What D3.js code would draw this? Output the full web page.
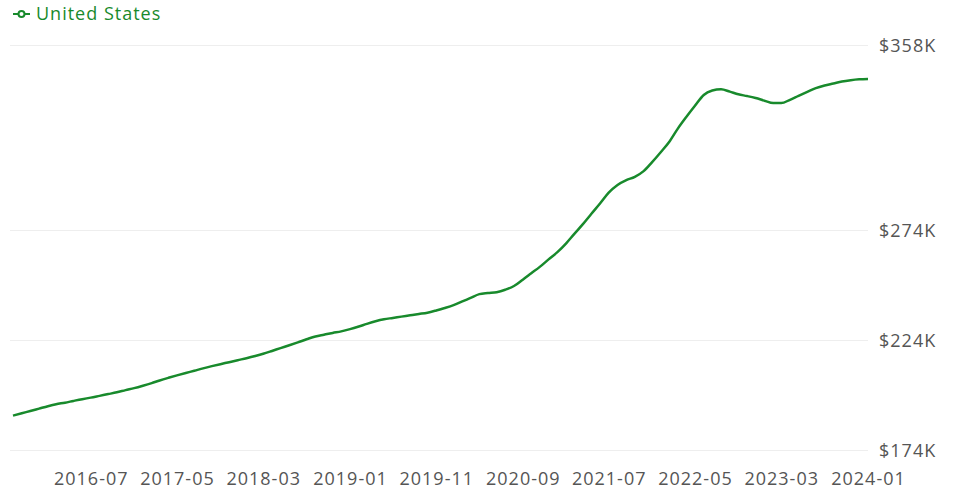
<!DOCTYPE html>
<html>
<head>
<meta charset="utf-8">
<script src="https://cdn.jsdelivr.net/npm/d3@7"></script>
<style>
  body { margin: 0; background: #fff; font-family: "Open Sans", sans-serif; }
  svg text { font-family: "Open Sans", sans-serif; letter-spacing: 1px; }
</style>
</head>
<body>
<div id="chart"></div>
<script>
// monthly values, 2015-10 .. 2024-01, in thousands of dollars
const startMonth = "2015-10";
const values = [
  189.6, 190.7, 191.7, 192.8, 193.9, 194.8, 195.5, 196.3, 197.1, 197.8,
  198.6, 199.4, 200.2, 201.2, 202.1, 203.2, 204.4, 205.6, 206.8, 207.9,
  209.0, 210.0, 211.1, 212.1, 213.0, 213.9, 214.8, 215.7, 216.7, 217.7,
  219.0, 220.3, 221.6, 222.9, 224.3, 225.6, 226.4, 227.2, 227.9, 228.9,
  230.1, 231.3, 232.5, 233.4, 234.0, 234.6, 235.2, 235.8, 236.4, 237.4,
  238.5, 239.8, 241.5, 243.1, 244.8, 245.3, 245.7, 246.8, 248.5, 251.4,
  254.3, 257.3, 260.6, 263.9, 267.9, 272.1, 276.6, 281.3, 286.1, 290.9,
  294.4, 296.6, 298.1, 300.7, 304.8, 309.4, 314.3, 319.9, 325.4, 330.4,
  335.3, 337.3, 337.9, 336.8, 335.6, 334.8, 333.9, 332.7, 331.6, 331.6,
  333.1, 334.9, 336.7, 338.4, 339.6, 340.5, 341.4, 342.0, 342.4, 342.6
];
const yTicks = [174, 224, 274, 358];
const xTicks = ["2016-07", "2017-05", "2018-03", "2019-01", "2019-11",
                "2020-09", "2021-07", "2022-05", "2023-03", "2024-01"];
const seriesName = "United States";

const w = 965, h = 501;
const green = "#188a2c";

const parse = d3.timeParse("%Y-%m");
const t0 = parse(startMonth);
const data = values.map((v, i) => ({ date: d3.timeMonth.offset(t0, i), v: v }));

const x = d3.scaleTime()
  .domain(d3.extent(data, d => d.date))
  .range([13, 868]);

const y = d3.scaleLinear()
  .domain([174, 358])
  .range([450, 45]);

const svg = d3.select("#chart").append("svg")
  .attr("width", w)
  .attr("height", h);

// grid
svg.append("g")
  .selectAll("line")
  .data(yTicks)
  .join("line")
  .attr("x1", 10)
  .attr("x2", 868)
  .attr("y1", d => Math.round(y(d)) + 0.5)
  .attr("y2", d => Math.round(y(d)) + 0.5)
  .attr("stroke", "#eeeeee");

// y axis on the right
const yAxis = d3.axisRight(y)
  .tickValues(yTicks)
  .tickSize(0)
  .tickPadding(0)
  .tickFormat(d => "$" + d + "K");

svg.append("g")
  .attr("transform", "translate(879,1)")
  .call(yAxis)
  .call(g => g.select(".domain").remove())
  .call(g => g.selectAll("text")
    .attr("fill", "#555")
    .style("font-size", "18px"));

// x axis
const xAxis = d3.axisBottom(x)
  .tickValues(xTicks.map(parse))
  .tickSize(0)
  .tickPadding(0)
  .tickFormat(d3.timeFormat("%Y-%m"));

svg.append("g")
  .attr("transform", "translate(0,472)")
  .call(xAxis)
  .call(g => g.select(".domain").remove())
  .call(g => g.selectAll("text")
    .attr("fill", "#555")
    .style("font-size", "18px"));

// line
const line = d3.line()
  .x(d => x(d.date))
  .y(d => y(d.v))
  .curve(d3.curveMonotoneX);

svg.append("path")
  .datum(data)
  .attr("d", line)
  .attr("fill", "none")
  .attr("stroke", green)
  .attr("stroke-width", 2.5);

// legend
const lg = svg.append("g").attr("transform", "translate(13,14)");
lg.append("line")
  .attr("x1", 0).attr("x2", 17)
  .attr("stroke", green).attr("stroke-width", 2);
lg.append("circle")
  .attr("cx", 8.5).attr("r", 3)
  .attr("fill", "#fff").attr("stroke", green).attr("stroke-width", 2);
lg.append("text")
  .attr("x", 23)
  .attr("dy", "0.35em")
  .attr("fill", green)
  .style("font-size", "18px")
  .text(seriesName);
</script>
</body>
</html>
